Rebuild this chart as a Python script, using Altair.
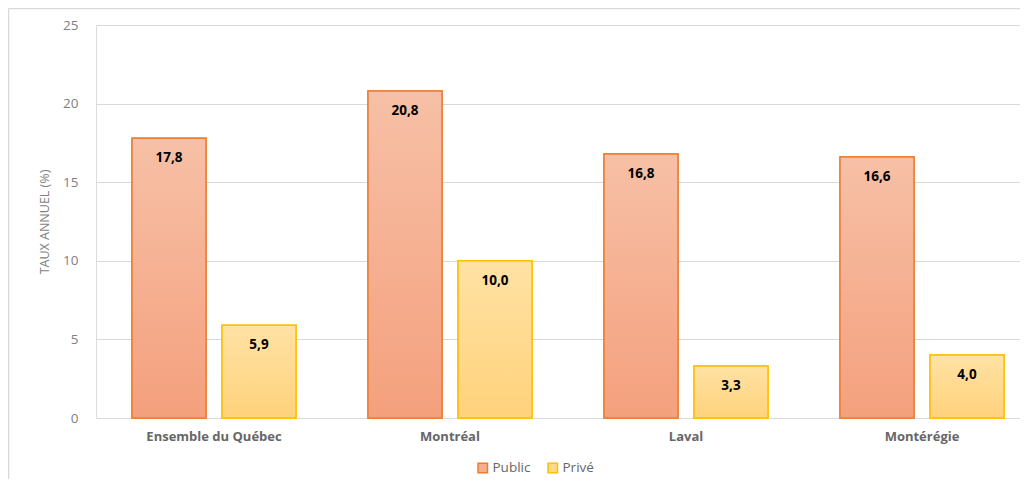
import altair as alt
import pandas as pd

categories = ["Ensemble du Québec", "Montréal", "Laval", "Montérégie"]
series = ["Public", "Privé"]
public_values = [17.8, 20.8, 16.8, 16.6]
prive_values = [5.9, 10.0, 3.3, 4.0]
y_ticks = [0, 5, 10, 15, 20, 25]

rows = []
for c, v in zip(categories, public_values):
    rows.append({"cat": c, "series": "Public", "value": v})
for c, v in zip(categories, prive_values):
    rows.append({"cat": c, "series": "Privé", "value": v})
df = pd.DataFrame(rows)

FONT = "Open Sans"
GRID = "#D9D9D9"
TXT = "#666666"

grad_pub = {"gradient": "linear", "x1": 0, "y1": 0, "x2": 0, "y2": 1,
            "stops": [{"offset": 0, "color": "#F7C0A6"}, {"offset": 1, "color": "#F4A07D"}]}
grad_pri = {"gradient": "linear", "x1": 0, "y1": 0, "x2": 0, "y2": 1,
            "stops": [{"offset": 0, "color": "#FFE2A4"}, {"offset": 1, "color": "#FFD27C"}]}

x_enc = alt.X("cat:N", sort=categories,
              scale=alt.Scale(range=[0, 944], paddingInner=0, paddingOuter=0),
              axis=alt.Axis(title=None, labelAngle=0, labelFontWeight="bold", labelColor=TXT,
                            labelFontSize=13, labelFont=FONT, labelPadding=12,
                            domain=False, ticks=False))
xo_enc = alt.XOffset("series:N", sort=series,
                     scale=alt.Scale(paddingInner=0.1778, paddingOuter=0.4))
y_enc = alt.Y("value:Q", scale=alt.Scale(domain=[0, 25], nice=False),
              axis=alt.Axis(title="TAUX ANNUEL (%)", values=y_ticks, grid=True, gridColor=GRID,
                            domain=False, ticks=False, labelColor="#7F7F7F", labelFontSize=13.5,
                            labelFont=FONT, labelPadding=18, titleColor="#7F7F7F",
                            titleFontWeight="normal", titleFontSize=12.5, titleFont=FONT,
                            titlePadding=11))

base = alt.Chart(df).encode(x=x_enc, xOffset=xo_enc, y=y_enc)

leg_common = dict(title=None, orient="none", direction="horizontal",
                  legendX=380, legendY=436, symbolType="square",
                  symbolSize=90, labelColor=TXT, labelFontSize=13.5,
                  labelFont=FONT, columnPadding=14, labelOffset=3)

legend_bars = base.mark_bar(strokeWidth=1.5).encode(
    color=alt.Color("series:N", sort=series,
                    scale=alt.Scale(domain=series, range=["#F5AE8E", "#FFD98A"]),
                    legend=alt.Legend(symbolOpacity=1, **leg_common)),
    stroke=alt.Stroke("series:N", sort=series,
                      scale=alt.Scale(domain=series, range=["#ED7D31", "#FFC000"]),
                      legend=alt.Legend(**leg_common)),
)

pub_bars = base.transform_filter(alt.datum.series == "Public").mark_bar(
    fill=grad_pub, stroke="#ED7D31", strokeWidth=1.5)
pri_bars = base.transform_filter(alt.datum.series == "Privé").mark_bar(
    fill=grad_pri, stroke="#FFC000", strokeWidth=1.5)

labels = base.transform_calculate(
    label="replace(format(datum.value, '.1f'), '.', ',')"
).mark_text(baseline="middle", dy=20, fontWeight="bold", fontSize=13.5, font=FONT,
            color="#000000").encode(text="label:N")

frame_df = pd.DataFrame({"a": [0]})
frame_left = alt.Chart(frame_df).mark_rule(color=GRID, strokeWidth=1.5).encode(
    x=alt.value(-87.5), y=alt.value(-16.5), y2=alt.value(454))
frame_top = alt.Chart(frame_df).mark_rule(color=GRID, strokeWidth=1.5).encode(
    x=alt.value(-87.5), x2=alt.value(926), y=alt.value(-16.5))

chart = alt.layer(legend_bars, pub_bars, pri_bars, labels, frame_left, frame_top).properties(
    width=924, height=393,
    autosize=alt.AutoSizeParams(type="none"),
    padding={"left": 88, "top": 17, "right": 0, "bottom": 61},
).configure_view(strokeWidth=0).configure(font=FONT)

chart.save("out.html", embed_options={"renderer": "svg", "actions": False})
